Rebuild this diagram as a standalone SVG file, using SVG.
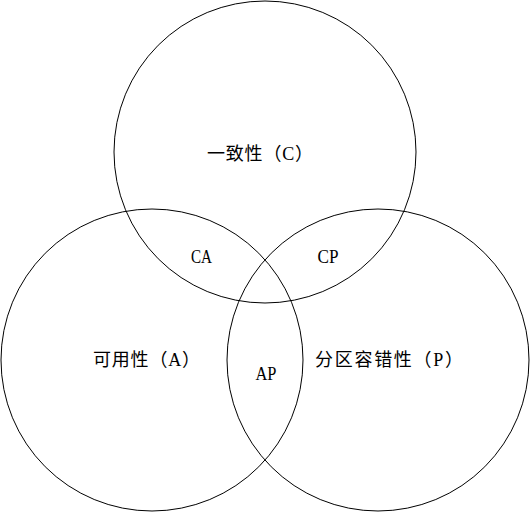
<svg xmlns="http://www.w3.org/2000/svg" width="530" height="512" viewBox="0 0 530 512">
<style>
.c{fill:none;stroke:#000;stroke-width:1}
.t{font-family:"Liberation Serif","Noto Sans CJK SC",serif;font-size:18px;fill:#000;text-anchor:middle}
.s{font-family:"Liberation Serif",serif;font-size:18px;fill:#000;text-anchor:middle}
</style>
<rect width="530" height="512" fill="#fff"/>
<g id="C"><circle class="c" cx="265" cy="152" r="151"/><text class="t" x="260" y="160" textLength="106" lengthAdjust="spacing">一致性（C）</text></g>
<g id="A"><circle class="c" cx="152" cy="360" r="151"/><text class="t" x="146.5" y="366" textLength="107" lengthAdjust="spacing">可用性（A）</text></g>
<g id="P"><circle class="c" cx="378" cy="360" r="151"/><text class="t" x="389" y="366" textLength="148" lengthAdjust="spacing">分区容错性（P）</text></g>
<g id="CA"><text class="s" x="201.5" y="263" textLength="21" lengthAdjust="spacingAndGlyphs">CA</text></g>
<g id="CP"><text class="s" x="328" y="263" textLength="21" lengthAdjust="spacingAndGlyphs">CP</text></g>
<g id="AP"><text class="s" x="266" y="380" textLength="21" lengthAdjust="spacingAndGlyphs">AP</text></g>
</svg>
